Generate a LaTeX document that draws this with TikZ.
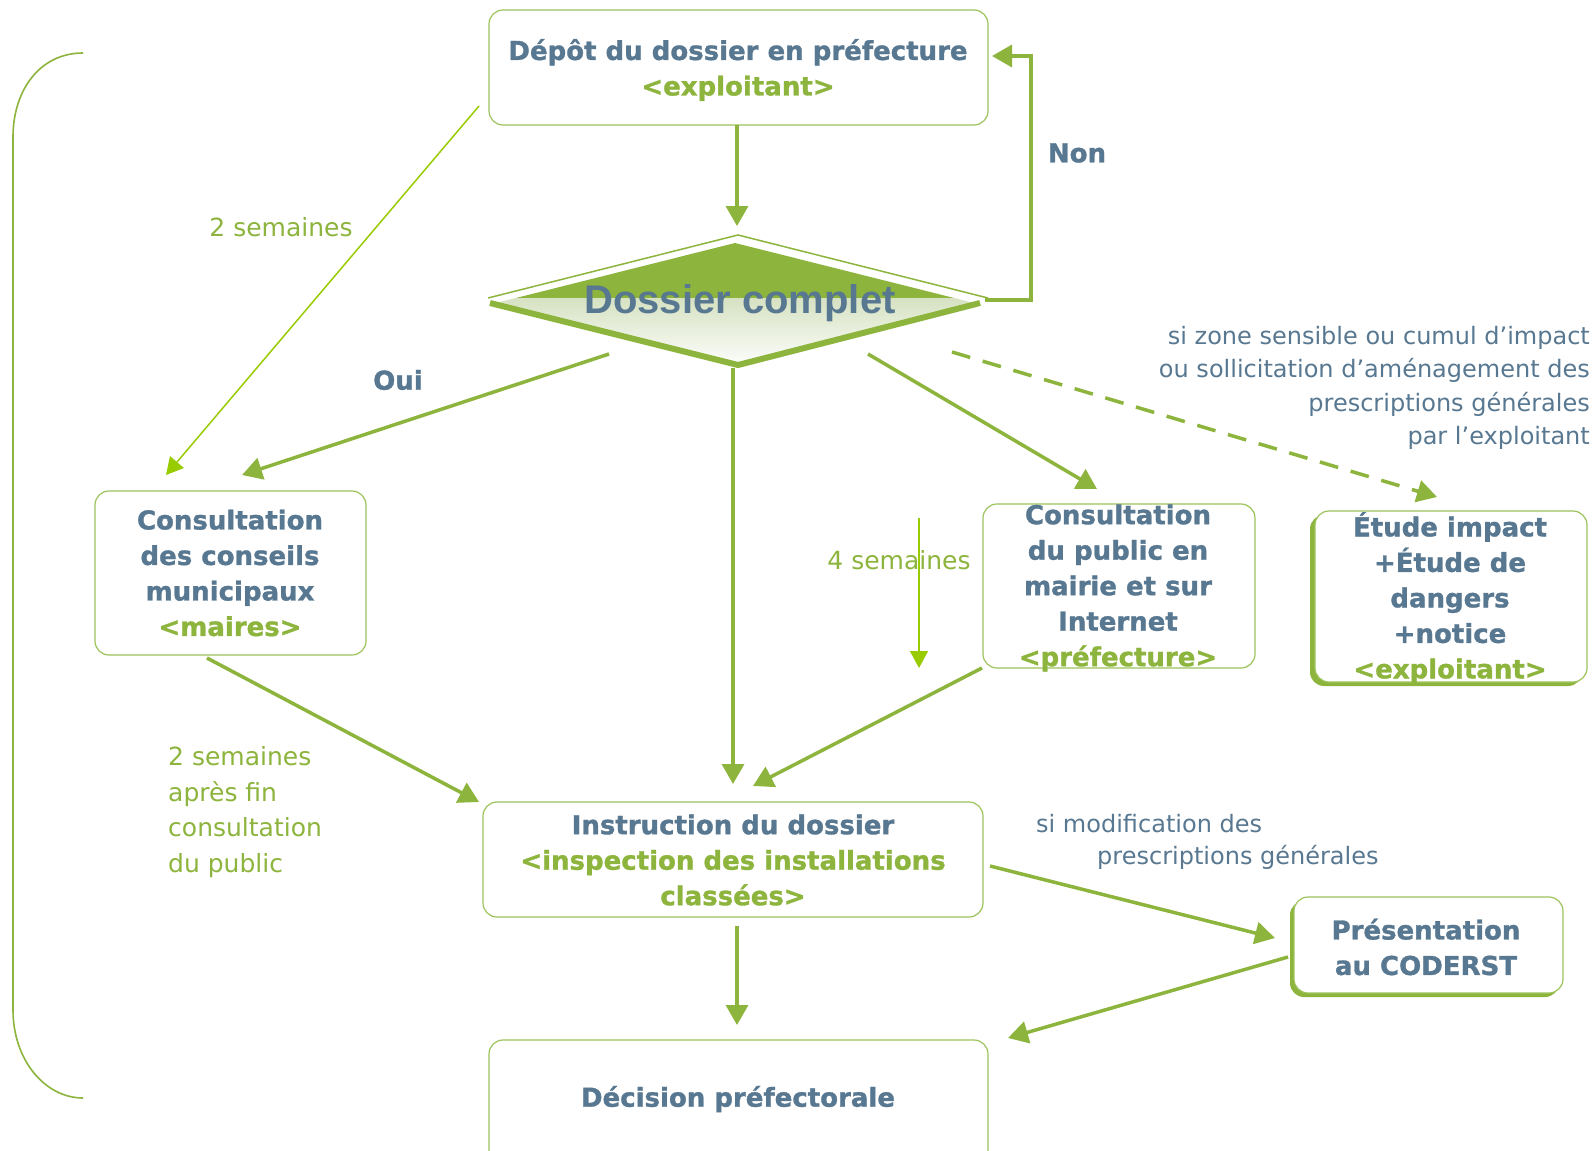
\documentclass[tikz,border=0pt]{standalone}
\usepackage{fontspec}
\setmainfont{DejaVu Sans}
\newfontfamily\heavy[FakeBold=1.2]{DejaVu Sans}
\newfontfamily\dossfont{Liberation Sans}
\usetikzlibrary{arrows.meta,calc}
\definecolor{slate}{HTML}{587891}
\definecolor{grn}{HTML}{8DB43C}
\definecolor{lgrn}{HTML}{99CC00}
\definecolor{boxgrn}{HTML}{9DC35B}
\definecolor{pale}{HTML}{D6E2C2}
\begin{document}
\begin{tikzpicture}[x=1pt,y=-1pt,
  boxst/.style={draw=boxgrn,line width=1.2pt,rounded corners=14pt,fill=white,inner sep=0pt},
  shadowst/.style={fill=grn,rounded corners=14pt,draw=none,inner sep=0pt},
  btxt/.style={font=\heavy\fontsize{26}{35.5}\selectfont\bfseries,text=slate,align=center,inner sep=0pt},
  rtxt/.style={font=\fontsize{24}{33.5}\selectfont,text=slate,inner sep=0pt},
  gtxt/.style={font=\fontsize{25}{35.5}\selectfont,text=grn,inner sep=0pt},
  flowarrow/.style={draw=grn,line width=3.5pt,-{Triangle[length=20pt,width=22pt]}},
  thinarrow/.style={draw=lgrn,line width=1.5pt,-{Triangle[length=17pt,width=18pt]}},
]
\useasboundingbox (0,0) rectangle (1596,1151);
\fill[white] (0,0) rectangle (1596,1151);

% left bracket
\draw[grn,line width=1.6pt] (83,53) .. controls (40,53) and (13,90) .. (13,137) -- (13,1010) .. controls (13,1060) and (45,1098) .. (83,1098);

% boxes
\node[boxst,minimum width=499pt,minimum height=115pt] (depot) at (738.5,67.5) {};
\node[boxst,minimum width=271pt,minimum height=164pt] (conseils) at (230.5,573) {};
\node[boxst,minimum width=272pt,minimum height=164pt] (public) at (1119,586) {};
\node[shadowst,minimum width=272pt,minimum height=171pt] (etudesh) at (1446,600.5) {};
\node[boxst,minimum width=272pt,minimum height=171pt] (etude) at (1451,596.5) {};
\node[boxst,minimum width=500pt,minimum height=115pt] (instr) at (733,859.5) {};
\node[shadowst,minimum width=269pt,minimum height=96pt] (codsh) at (1424.5,949) {};
\node[boxst,minimum width=269pt,minimum height=96pt] (coderst) at (1428.5,945) {};
\node[boxst,minimum width=499pt,minimum height=125pt] (decision) at (738.5,1102.5) {};

% diamond
\begin{scope}
  \clip (488,305) -- (735,243) -- (982,305) -- (738,368) -- cycle;
  \fill[grn] (480,230) rectangle (990,298);
  \shade[top color=pale,bottom color=white] (480,298) rectangle (990,370);
\end{scope}
\draw[grn,line width=6pt,line join=miter] (490,303) -- (738,365) -- (980,303);
\draw[grn,line width=1.5pt] (488,298) -- (738,235) -- (988,298);
\node[font=\dossfont\fontsize{40}{40}\selectfont\bfseries,text=slate,anchor=base,inner sep=0pt] (complet) at (740,313) {Dossier complet};

% box texts
\node[btxt] (tdepot) at (738,70) {Dépôt du dossier en préfecture\\ \textcolor{grn}{<exploitant>}};
\node[btxt] (tconseils) at (230,573) {Consultation\\des conseils\\municipaux\\ \textcolor{grn}{<maires>}};
\node[btxt] (tpublic) at (1118,588) {Consultation\\du public en\\mairie et sur\\Internet\\ \textcolor{grn}{<préfecture>}};
\node[btxt] (tetude) at (1450,598) {Étude impact\\+Étude de\\dangers\\+notice\\ \textcolor{grn}{<exploitant>}};
\node[btxt] (tinstr) at (733,860) {Instruction du dossier\\ \textcolor{grn}{<inspection des installations}\\ \textcolor{grn}{classées>}};
\node[btxt] (tcoderst) at (1426,947) {Présentation\\au CODERST};
\node[btxt] (tdecision) at (738,1099) {Décision préfectorale};

% labels
\node[btxt] (non) at (1077,153) {Non};
\node[btxt] (oui) at (398,380) {Oui};
\node[gtxt] (sem2a) at (281,227) {2 semaines};
\node[gtxt] (sem4) at (899,560) {4 semaines};
\node[gtxt,align=left,anchor=west] (sem2b) at (168,812) {2 semaines\\après fin\\consultation\\du public};
\node[rtxt,align=right,anchor=east] (zone) at (1590,388) {si zone sensible ou cumul d’impact\\ou sollicitation d’aménagement des\\prescriptions générales\\par l’exploitant};
\node[rtxt,anchor=west] (modif1) at (1036,824) {si modification des};
\node[rtxt,anchor=west] (modif2) at (1097,857) {prescriptions générales};

% connector coordinates
\coordinate (a1) at (737,125); \coordinate (a2) at (737,226);
\coordinate (n1) at (985,300); \coordinate (n2) at (1031,300); \coordinate (n3) at (1031,56); \coordinate (n4) at (992,56);
\coordinate (o1) at (609,354); \coordinate (o2) at (242,475);
\coordinate (v1) at (733,368); \coordinate (v2) at (733,784);
\coordinate (r1) at (868,354); \coordinate (r2) at (1097,489);
\coordinate (d1) at (952,352); \coordinate (d2) at (1437,497);
\coordinate (t1) at (479,106); \coordinate (t2) at (166,475);
\coordinate (f1) at (919,518); \coordinate (f2) at (919,668);
\coordinate (c1) at (207,658); \coordinate (c2) at (479,802);
\coordinate (p1) at (982,668); \coordinate (p2) at (753,786);
\coordinate (i1) at (737,926); \coordinate (i2) at (737,1025);
\coordinate (m1) at (990,866); \coordinate (m2) at (1275,938);
\coordinate (k1) at (1288,957); \coordinate (k2) at (1008,1038);

\draw[flowarrow] (a1) -- (a2);
\draw[flowarrow,line join=miter] (n1) -- (n2) -- (n3) -- (n4);
\draw[flowarrow] (o1) -- (o2);
\draw[flowarrow] (v1) -- (v2);
\draw[flowarrow] (r1) -- (r2);
\draw[flowarrow,dash pattern=on 19pt off 13pt] (d1) -- (d2);
\draw[thinarrow] (t1) -- (t2);
\draw[thinarrow] (f1) -- (f2);
\draw[flowarrow] (c1) -- (c2);
\draw[flowarrow] (p1) -- (p2);
\draw[flowarrow] (i1) -- (i2);
\draw[flowarrow] (m1) -- (m2);
\draw[flowarrow] (k1) -- (k2);
\end{tikzpicture}
\end{document}
